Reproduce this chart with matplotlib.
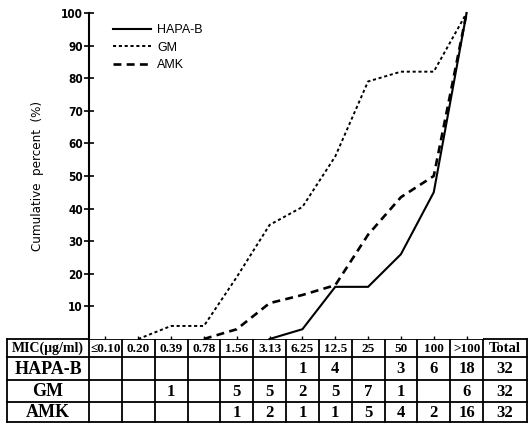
import matplotlib
matplotlib.use("Agg")
import matplotlib.pyplot as plt

mic_labels = ['≤0.10', '0.20', '0.39', '0.78', '1.56', '3.13', '6.25',
              '12.5', '25', '50', '100', '>100']
drugs = ['HAPA-B', 'GM', 'AMK']

# number of strains per MIC column (table body)
hapa_counts = ['', '', '', '', '', '', '1', '4', '', '3', '6', '18']
gm_counts = ['', '', '1', '', '5', '5', '2', '5', '7', '1', '', '6']
amk_counts = ['', '', '', '', '1', '2', '1', '1', '5', '4', '2', '16']
totals = ['32', '32', '32']

# cumulative percent (start column index, values)
hapa_start = 5
hapa_cum = [0, 3, 16, 16, 26, 45, 100]
gm_start = 1
gm_cum = [0, 4, 4, 19, 35, 40.5, 56, 79, 82, 82, 100]
amk_start = 3
amk_cum = [0, 3, 11, 13.5, 16.5, 32, 43.5, 50, 100]

W, H = 529, 423
fig = plt.figure(figsize=(W / 100, H / 100), dpi=100)

x0, x1 = 89, 483          # plot area = MIC columns
y_top, y_zero = 13, 339   # 100 % and 0 % (table top)
ax = fig.add_axes([x0 / W, (H - y_zero) / H, (x1 - x0) / W, (y_zero - y_top) / H])
ax.set_xlim(-0.5, 11.5)
ax.set_ylim(0, 100)

ax.plot(range(hapa_start, hapa_start + len(hapa_cum)), hapa_cum, color='black',
        lw=1.5, solid_joinstyle='miter', label='HAPA-B', clip_on=False)
ax.plot(range(gm_start, gm_start + len(gm_cum)), gm_cum, color='black',
        lw=1.4, linestyle=(0, (1.6, 1.4)), label='GM', clip_on=False)
ax.plot(range(amk_start, amk_start + len(amk_cum)), amk_cum, color='black',
        lw=1.9, linestyle=(0, (3, 2)), label='AMK', clip_on=False)

for s in ['top', 'right', 'bottom']:
    ax.spines[s].set_visible(False)
ax.spines['left'].set_linewidth(1.5)
ax.set_yticks(range(10, 101, 10))
ax.tick_params(axis='y', direction='inout', length=7, width=1.2, pad=1)
ax.set_xticks(range(12))
ax.tick_params(axis='x', direction='in', length=2, width=1, labelbottom=False)
tick_font = dict(family='DejaVu Sans', stretch='condensed', weight='bold', size=8.5)
ax.set_yticklabels([str(v) for v in range(10, 101, 10)], fontdict=tick_font)
ax.set_ylabel('Cumulative  percent  (%)', family='DejaVu Sans', stretch='condensed',
              size=9.5, labelpad=12)

leg = ax.legend(loc='upper left', bbox_to_anchor=(113 / W, (H - 24) / H),
                bbox_transform=fig.transFigure, frameon=False, borderpad=0,
                borderaxespad=0, handlelength=3.0, handletextpad=0.55,
                labelspacing=0.45, prop=dict(family='Liberation Sans', size=9))

# table drawn in pixel coordinates
tb = fig.add_axes([0, 0, 1, 1], zorder=-1)
tb.set_xlim(0, W)
tb.set_ylim(H, 0)
tb.axis('off')

step = (x1 - x0) / 12
col_edges = [7] + [x0 + step * i for i in range(13)] + [527]
row_edges = [339, 357, 380, 402, 422.5]
for x in col_edges:
    tb.plot([x, x], [row_edges[0], row_edges[-1]], color='black', lw=1.3)
for y in row_edges:
    tb.plot([col_edges[0], col_edges[-1]], [y, y], color='black', lw=1.3)

serif = 'Liberation Serif'
header = ['MIC(μg/ml)'] + mic_labels + ['Total']
for i, txt in enumerate(header):
    cx = (col_edges[i] + col_edges[i + 1]) / 2
    cy = (row_edges[0] + row_edges[1]) / 2
    size = 10 if i == 0 else (10.5 if txt == 'Total' else 9.5)
    tb.text(cx, cy + 0.5, txt, ha='center', va='center', family=serif,
            weight='bold', size=size)

body = [hapa_counts, gm_counts, amk_counts]
for r, (name, vals) in enumerate(zip(drugs, body)):
    cy = (row_edges[r + 1] + row_edges[r + 2]) / 2
    cells = [name] + vals + [totals[r]]
    for i, txt in enumerate(cells):
        cx = (col_edges[i] + col_edges[i + 1]) / 2
        tb.text(cx, cy + 0.5, txt, ha='center', va='center', family=serif,
                weight='bold', size=13 if i == 0 else 12)

fig.savefig('out.png', dpi=100)
